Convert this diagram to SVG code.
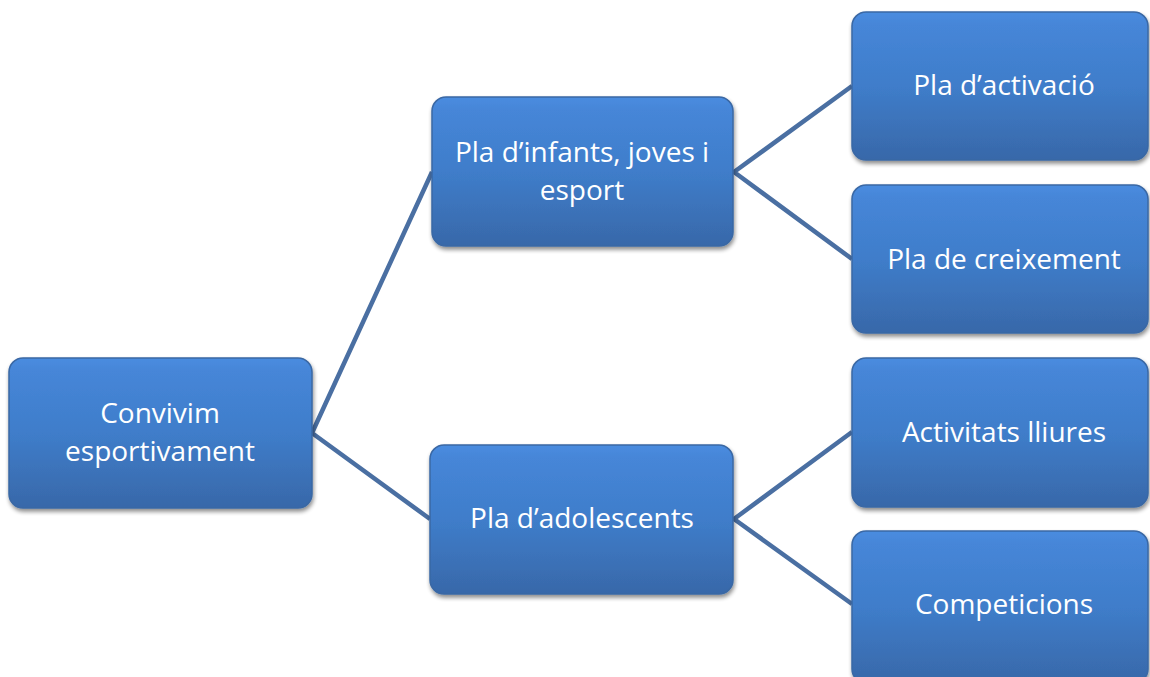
<svg xmlns="http://www.w3.org/2000/svg" width="1150" height="677" viewBox="0 0 1150 677">
<defs>
<linearGradient id="g" x1="0" y1="0" x2="0" y2="1">
<stop offset="0" stop-color="#4a8ce0"/>
<stop offset="0.08" stop-color="#4686d8"/>
<stop offset="0.5" stop-color="#3f7dca"/>
<stop offset="1" stop-color="#3868a9"/>
</linearGradient>
<filter id="sh" x="-10%" y="-10%" width="120%" height="125%">
<feGaussianBlur in="SourceAlpha" stdDeviation="2"/>
<feOffset dx="1" dy="3" result="b"/>
<feComponentTransfer><feFuncA type="linear" slope="0.45"/></feComponentTransfer>
<feMerge><feMergeNode/><feMergeNode in="SourceGraphic"/></feMerge>
</filter>
</defs>
<style>
.box{fill:url(#g);stroke:#3a68a4;stroke-width:1.5;filter:url(#sh)}
.t{font-family:"Open Sans","Liberation Sans",sans-serif;font-size:28px;fill:#ffffff;text-anchor:middle}
.c{fill:none;stroke:#4a6fa2;stroke-width:4.5;stroke-linejoin:round}
</style>
<g id="connectors">
<polyline class="c" points="432,172 312,433 430,519"/>
<polyline class="c" points="852,86 734,172 852,259"/>
<polyline class="c" points="852,432 734,519 852,604"/>
</g>
<g id="n-root">
<rect class="box" x="9" y="358" width="303" height="150" rx="14"/>
<text class="t" x="160" y="423">Convivim</text>
<text class="t" x="160" y="461">esportivament</text>
</g>
<g id="n-infants">
<rect class="box" x="432" y="97" width="301" height="149" rx="14"/>
<text class="t" x="582" y="162">Pla d’infants, joves i</text>
<text class="t" x="582" y="200">esport</text>
</g>
<g id="n-adolescents">
<rect class="box" x="430" y="445" width="303" height="149" rx="14"/>
<text class="t" x="582" y="528">Pla d’adolescents</text>
</g>
<g id="n-activacio">
<rect class="box" x="852" y="12" width="296" height="148" rx="14"/>
<text class="t" x="1004" y="95">Pla d’activació</text>
</g>
<g id="n-creixement">
<rect class="box" x="852" y="185" width="296" height="148" rx="14"/>
<text class="t" x="1004" y="269">Pla de creixement</text>
</g>
<g id="n-lliures">
<rect class="box" x="852" y="358" width="296" height="149" rx="14"/>
<text class="t" x="1004" y="442">Activitats lliures</text>
</g>
<g id="n-competicions">
<rect class="box" x="852" y="531" width="296" height="152" rx="14"/>
<text class="t" x="1004" y="614">Competicions</text>
</g>
</svg>
